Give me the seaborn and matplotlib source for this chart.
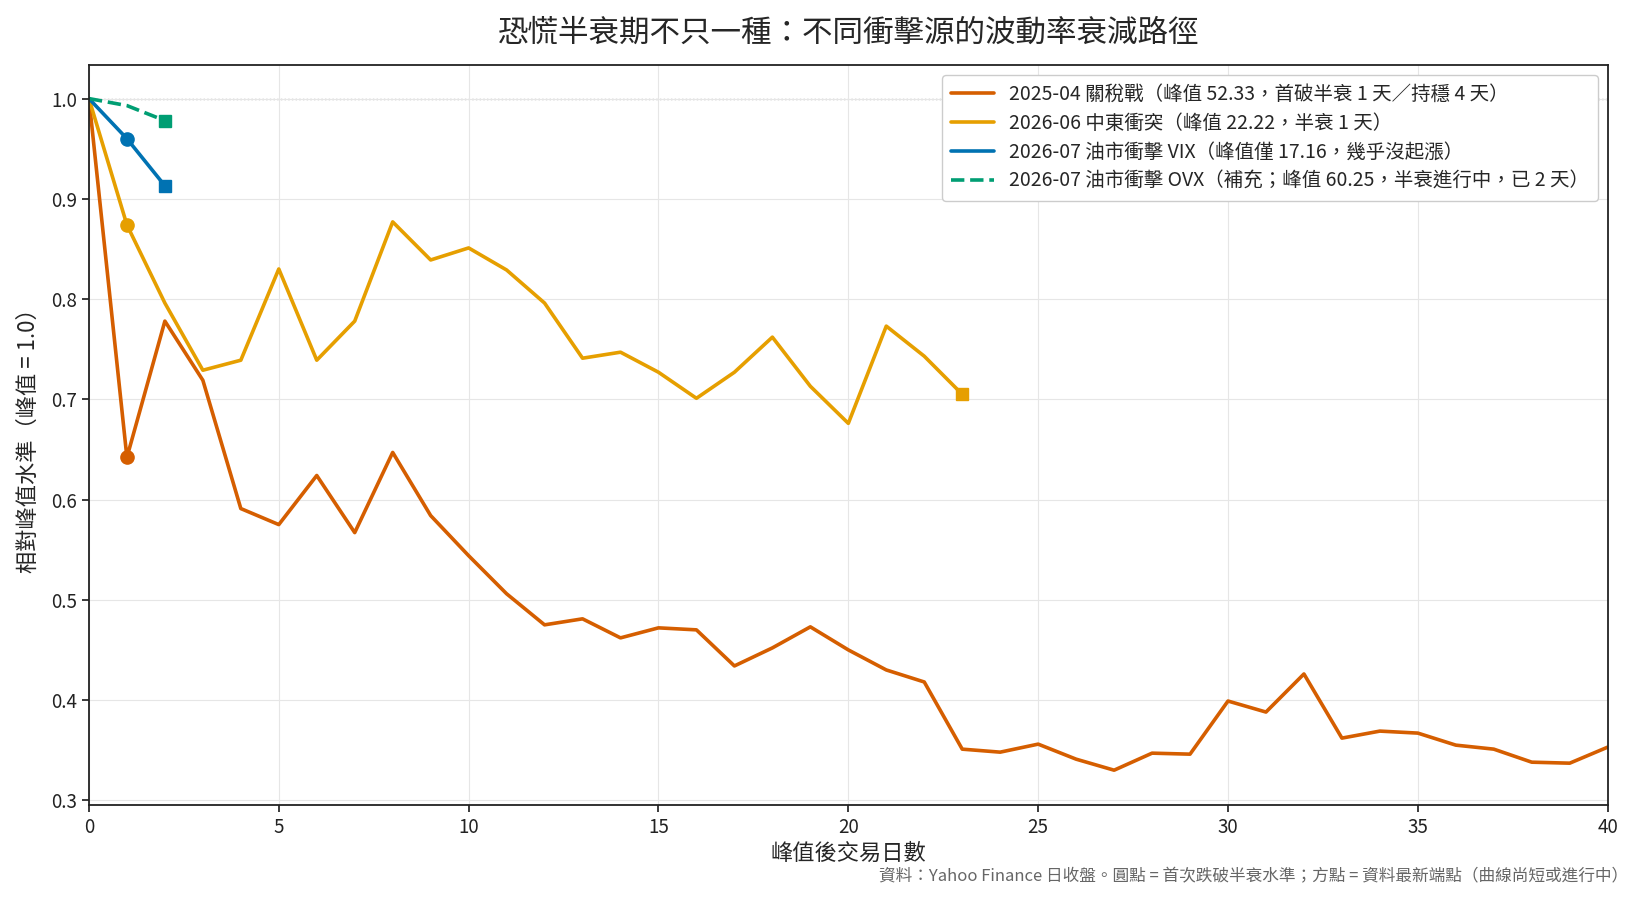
import numpy as np
import pandas as pd
import matplotlib
matplotlib.use("Agg")
import matplotlib.pyplot as plt
import seaborn as sns

# %%
# Relative level vs peak (peak = 1.0), by trading day after the peak
tariff_2504 = [1.000, 0.642, 0.778, 0.719, 0.591, 0.575, 0.624, 0.567, 0.647, 0.584,
               0.544, 0.506, 0.475, 0.481, 0.462, 0.472, 0.470, 0.434, 0.452, 0.473,
               0.450, 0.430, 0.418, 0.351, 0.348, 0.356, 0.341, 0.330, 0.347, 0.346,
               0.399, 0.388, 0.426, 0.362, 0.369, 0.367, 0.355, 0.351, 0.338, 0.337,
               0.353]
mideast_2606 = [1.000, 0.874, 0.796, 0.729, 0.739, 0.830, 0.739, 0.778, 0.877, 0.839,
                0.851, 0.829, 0.796, 0.741, 0.747, 0.727, 0.701, 0.727, 0.762, 0.713,
                0.676, 0.773, 0.743, 0.705]
oil_vix_2607 = [1.000, 0.960, 0.913]
oil_ovx_2607 = [1.000, 0.993, 0.978]

labels = [
    "2025-04 關稅戰（峰值 52.33，首破半衰 1 天／持穩 4 天）",
    "2026-06 中東衝突（峰值 22.22，半衰 1 天）",
    "2026-07 油市衝擊 VIX（峰值僅 17.16，幾乎沒起漲）",
    "2026-07 油市衝擊 OVX（補充；峰值 60.25，半衰進行中，已 2 天）",
]
colors = ["#D55E00", "#E69F00", "#0072B2", "#009E73"]
styles = ["-", "-", "-", "--"]
# day of first break below half-decay level (None = not yet)
first_break = [1, 1, 1, None]

title = "恐慌半衰期不只一種：不同衝擊源的波動率衰減路徑"
xlabel = "峰值後交易日數"
ylabel = "相對峰值水準（峰值 = 1.0）"
note = "資料：Yahoo Finance 日收盤。圓點 = 首次跌破半衰水準；方點 = 資料最新端點（曲線尚短或進行中）"

# %%
sns.set_theme(style="ticks")
plt.rcParams["font.family"] = ["Noto Sans CJK TC", "DejaVu Sans"]
plt.rcParams["axes.unicode_minus"] = False

fig = plt.figure(figsize=(16.41, 9), dpi=100)
ax = fig.add_axes([0.0542, 0.1058, 0.9255, 0.8221])

series = [tariff_2504, mideast_2606, oil_vix_2607, oil_ovx_2607]
for vals, lab, col, ls, fb in zip(series, labels, colors, styles, first_break):
    d = pd.DataFrame({"day": np.arange(len(vals)), "level": vals})
    sns.lineplot(data=d, x="day", y="level", ax=ax, color=col, linestyle=ls,
                 linewidth=2.6, label=lab)
    if fb is not None:
        ax.plot(d["day"].iloc[fb], d["level"].iloc[fb], "o", color=col, markersize=9.5, zorder=4)
    if len(vals) <= 40:
        ax.plot(d["day"].iloc[-1], d["level"].iloc[-1], "s", color=col, markersize=9, zorder=4)

ax.axhline(1.0, color="#999999", linestyle=":", linewidth=1, zorder=0)

ax.set_xlim(0, 40)
ax.set_ylim(0.2955, 1.0336)
ax.set_yticks([0.3, 0.4, 0.5, 0.6, 0.7, 0.8, 0.9, 1.0])
ax.grid(True, color="#e6e6e6", linewidth=0.8)
ax.set_axisbelow(True)
for s in ax.spines.values():
    s.set_color("#222222")
    s.set_linewidth(1.3)
ax.tick_params(labelsize=13.5, colors="#222222", length=5)

ax.set_xlabel(xlabel, fontsize=16, labelpad=3)
ax.set_ylabel(ylabel, fontsize=16, labelpad=8)
ax.set_title(title, fontsize=22, pad=17)

leg = ax.legend(loc="upper right", fontsize=14, frameon=True, fancybox=True,
                edgecolor="#cccccc", framealpha=1, handlelength=2.2,
                borderpad=0.45, labelspacing=0.42)

fig.text(0.992, 0.026, note, ha="right", va="center", fontsize=12, color="#666666")

fig.savefig("out.png", dpi=100)
